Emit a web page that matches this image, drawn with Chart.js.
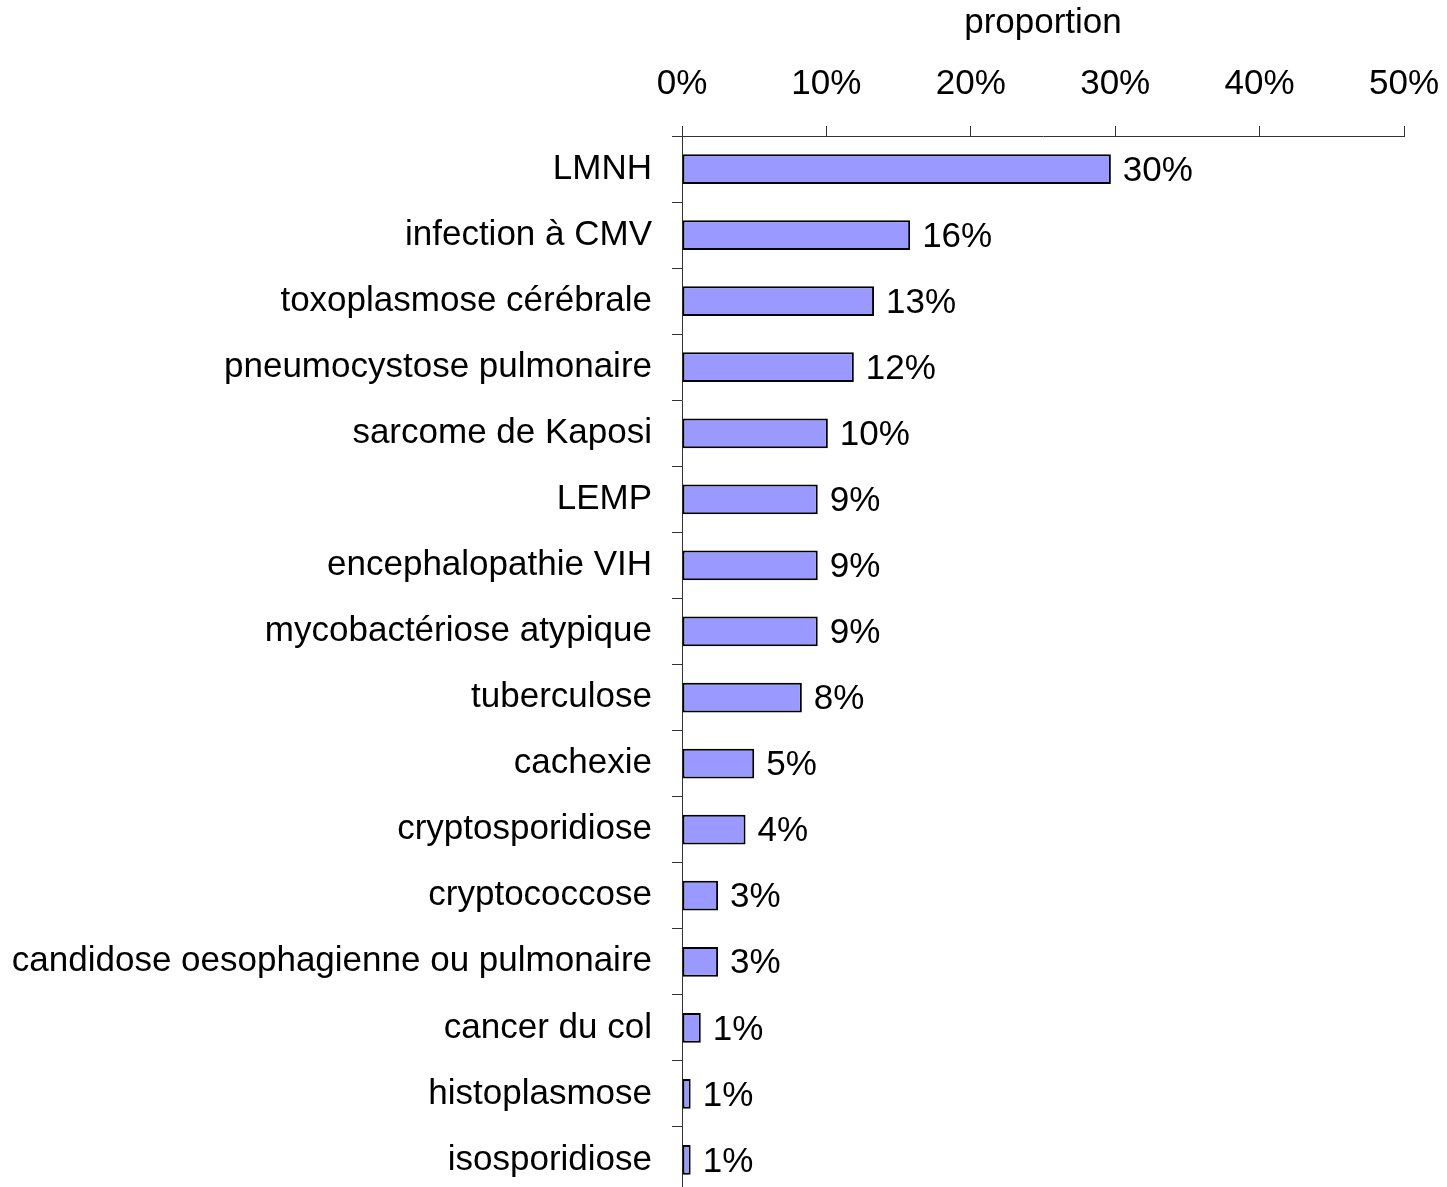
<!DOCTYPE html>
<html>
<head>
<meta charset="utf-8">
<script src="https://cdn.jsdelivr.net/npm/chart.js@4/dist/chart.umd.min.js"></script>
<style>
html,body{margin:0;padding:0;background:#fff;overflow:hidden;}
#wrap{width:1447px;height:1193px;}
</style>
</head>
<body>
<div id="wrap"><canvas id="c" width="1447" height="1193"></canvas></div>
<script>
const categories = [
  "LMNH","infection à CMV","toxoplasmose cérébrale","pneumocystose pulmonaire",
  "sarcome de Kaposi","LEMP","encephalopathie VIH","mycobactériose atypique",
  "tuberculose","cachexie","cryptosporidiose","cryptococcose",
  "candidose oesophagienne ou pulmonaire","cancer du col","histoplasmose","isosporidiose"
];
const proportions = [29.7, 15.8, 13.3, 11.9, 10.1, 9.4, 9.4, 9.4, 8.3, 5.0, 4.4, 2.5, 2.5, 1.3, 0.6, 0.6];
const valueLabels = ["30%","16%","13%","12%","10%","9%","9%","9%","8%","5%","4%","3%","3%","1%","1%","1%"];
const xTicks = [0, 10, 20, 30, 40, 50];
const axisTitle = "proportion";

const FONT = "'Liberation Sans', Arial, sans-serif";
const FS = 35;

const valueLabelPlugin = {
  id: 'valueLabels',
  afterDatasetsDraw(chart) {
    const ctx = chart.ctx;
    const meta = chart.getDatasetMeta(0);
    ctx.save();
    ctx.font = FS + "px " + FONT;
    ctx.fillStyle = "#000";
    ctx.textAlign = "left";
    ctx.textBaseline = "middle";
    meta.data.forEach((bar, i) => {
      ctx.fillText(valueLabels[i], bar.x + 12, bar.y + 2);
    });
    ctx.restore();
  }
};

function zeroPad(scale) {
  scale.paddingLeft = 0; scale.paddingRight = 0;
  scale.paddingTop = 0; scale.paddingBottom = 0;
}

new Chart(document.getElementById('c'), {
  type: 'bar',
  data: {
    labels: categories,
    datasets: [{
      data: proportions,
      backgroundColor: '#9999FF',
      borderColor: '#000000',
      borderWidth: 2,
      borderSkipped: false,
      categoryPercentage: 1.0,
      barPercentage: 0.45
    }]
  },
  options: {
    indexAxis: 'y',
    responsive: false,
    animation: false,
    devicePixelRatio: 1,
    layout: { padding: { left: 0, right: 43, top: 0, bottom: 0 } },
    plugins: { legend: { display: false }, tooltip: { enabled: false } },
    scales: {
      x: {
        position: 'top',
        min: 0, max: 50,
        afterBuildTicks(scale) { scale.ticks = xTicks.map(v => ({ value: v })); },
        afterFit(scale) { scale.height = 136; zeroPad(scale); },
        ticks: {
          callback: v => v + '%',
          color: '#000',
          font: { family: FONT, size: FS },
          padding: 21,
          maxRotation: 0
        },
        grid: { drawOnChartArea: false, tickLength: 10, color: '#333', lineWidth: 1 },
        border: { color: '#333', width: 1 },
        title: {
          display: true, text: axisTitle, color: '#000',
          font: { family: FONT, size: FS },
          padding: { top: 2, bottom: 8 }
        }
      },
      y: {
        offset: true,
        afterFit(scale) { scale.width = 682; zeroPad(scale); },
        ticks: {
          color: '#000',
          font: { family: FONT, size: FS },
          padding: 20,
          autoSkip: false
        },
        grid: { offset: true, drawOnChartArea: false, tickLength: 10, color: '#333', lineWidth: 1 },
        border: { color: '#333', width: 1 }
      }
    }
  },
  plugins: [valueLabelPlugin]
});
</script>
</body>
</html>
